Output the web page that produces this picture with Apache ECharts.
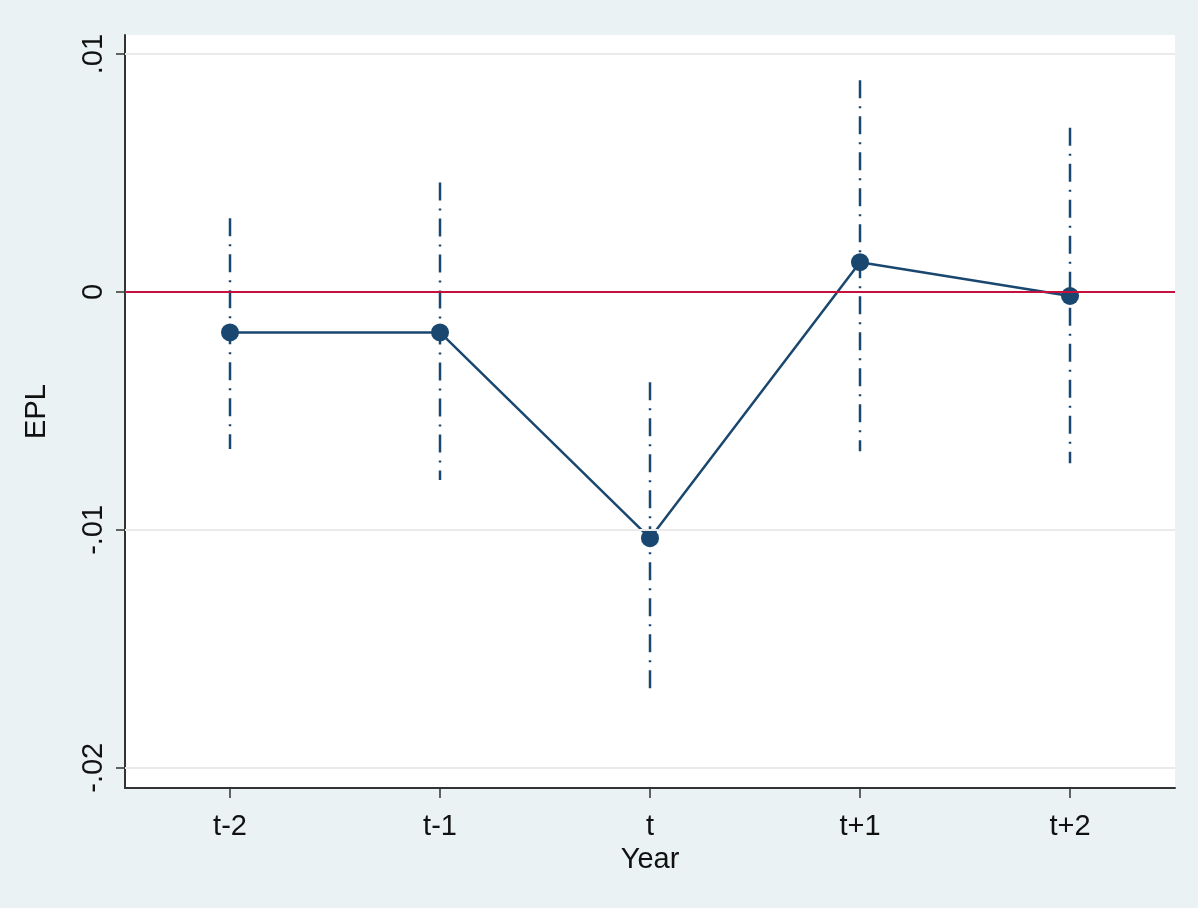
<!DOCTYPE html>
<html>
<head>
<meta charset="utf-8">
<script src="https://cdn.jsdelivr.net/npm/echarts@6/dist/echarts.min.js"></script>
<style>
html,body{margin:0;padding:0;background:#EAF2F3;}
#chart{width:1198px;height:908px;}
</style>
</head>
<body>
<div id="chart"></div>
<script>
const categories = ['t-2', 't-1', 't', 't+1', 't+2'];
const estimates = [-0.0017, -0.0017, -0.01035, 0.00125, -0.00017];
const ciLow = [-0.0066, -0.0079, -0.0169, -0.0067, -0.0072];
const ciHigh = [0.0031, 0.0046, -0.0038, 0.0089, 0.0069];
const yTickValues = [-0.02, -0.01, 0, 0.01];
const yTickLabels = ['-.02', '-.01', '0', '.01'];
const gridLineValues = [-0.02, -0.01, 0.01];
const refLineValue = 0;

const navy = '#1A476F';
const font = 'Liberation Sans, Arial, sans-serif';

const chart = echarts.init(document.getElementById('chart'));
chart.setOption({
  backgroundColor: '#EAF2F3',
  animation: false,
  grid: {
    left: 125, right: 23, top: 35, bottom: 120,
    show: true, backgroundColor: '#ffffff', borderWidth: 0
  },
  xAxis: {
    type: 'category',
    data: categories,
    boundaryGap: true,
    name: 'Year',
    nameLocation: 'middle',
    nameGap: 57,
    nameTextStyle: { fontFamily: font, fontSize: 29, color: '#111' },
    axisLine: { show: true, onZero: false, lineStyle: { color: '#333', width: 2 } },
    axisTick: { show: true, inside: false, interval: 0, alignWithLabel: true, length: 10, lineStyle: { color: '#333', width: 1.5 } },
    axisLabel: { fontFamily: font, fontSize: 29, color: '#111', margin: 24, interval: 0 },
    splitLine: { show: false }
  },
  yAxis: {
    type: 'value',
    min: -0.02085,
    max: 0.0108,
    name: 'EPL',
    nameLocation: 'middle',
    nameRotate: 90,
    nameGap: 74,
    nameTextStyle: { fontFamily: font, fontSize: 29, color: '#111' },
    axisLine: { show: true, onZero: false, lineStyle: { color: '#333', width: 2 } },
    axisTick: { show: true, length: 9, customValues: yTickValues, lineStyle: { color: '#333', width: 1.5 } },
    axisLabel: {
      fontFamily: font, fontSize: 29, color: '#111', margin: 17, rotate: 90,
      customValues: yTickValues,
      formatter: function (v) {
        const i = yTickValues.findIndex(t => Math.abs(t - v) < 1e-9);
        return i >= 0 ? yTickLabels[i] : '';
      }
    },
    splitLine: { show: false }
  },
  series: [
    {
      type: 'line',
      data: [],
      silent: true,
      markLine: {
        symbol: 'none',
        silent: true,
        label: { show: false },
        data: gridLineValues.map(v => ({ yAxis: v, lineStyle: { color: '#EAEAEA', width: 2, type: 'solid' } }))
          .concat([{ yAxis: refLineValue, lineStyle: { color: '#C8103E', width: 2, type: 'solid' } }])
      },
      z: 1
    },
    {
      type: 'custom',
      z: 2,
      data: categories.map((c, i) => [i, ciLow[i], ciHigh[i]]),
      renderItem: function (params, api) {
        const lo = api.coord([api.value(0), api.value(1)]);
        const hi = api.coord([api.value(0), api.value(2)]);
        return {
          type: 'line',
          shape: { x1: hi[0], y1: hi[1], x2: lo[0], y2: lo[1] },
          style: { stroke: navy, lineWidth: 2.5, lineDash: [18, 8, 2, 8] }
        };
      }
    },
    {
      type: 'line',
      z: 3,
      data: estimates,
      symbol: 'circle',
      symbolSize: 18,
      lineStyle: { color: navy, width: 2.5 },
      itemStyle: { color: navy },
      emphasis: { disabled: true }
    }
  ]
});
</script>
</body>
</html>
